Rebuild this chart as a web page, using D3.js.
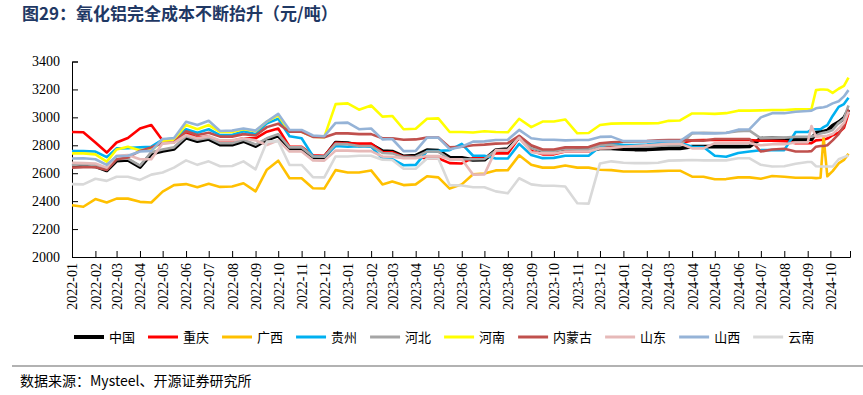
<!DOCTYPE html>
<html><head><meta charset="utf-8">
<script src="https://cdn.jsdelivr.net/npm/d3@7"></script>
<style>
html,body{margin:0;padding:0;background:#fff;}
svg{display:block;}
</style></head>
<body>
<svg id="chart" width="863" height="395"></svg>
<script>
const title = "图29：氧化铝完全成本不断抬升（元/吨）";
const source = "数据来源：Mysteel、开源证券研究所";
const yTicks = [2000,2200,2400,2600,2800,3000,3200,3400];
const names = ["中国","重庆","广西","贵州","河北","河南","内蒙古","山东","山西","云南"];
const colors = ["#000000","#FF0000","#FFC000","#00B0F0","#A5A5A5","#FFFF00","#C0504D","#E6B9B8","#95B3D7","#D9D9D9"];
const dates = [
"2022-01-01","2022-01-16","2022-02-01","2022-02-16","2022-03-01","2022-03-16","2022-04-01","2022-04-16","2022-05-01","2022-05-16","2022-06-01","2022-06-16",
"2022-07-01","2022-07-16","2022-08-01","2022-08-16","2022-09-01","2022-09-16","2022-10-01","2022-10-16","2022-11-01","2022-11-16","2022-12-01","2022-12-16",
"2023-01-01","2023-01-16","2023-02-01","2023-02-16","2023-03-01","2023-03-16","2023-04-01","2023-04-16","2023-05-01","2023-05-16","2023-06-01","2023-06-16",
"2023-07-01","2023-07-16","2023-08-01","2023-08-16","2023-09-01","2023-09-16","2023-10-01","2023-10-16","2023-11-01","2023-11-16","2023-12-01","2023-12-16",
"2024-01-01","2024-01-16","2024-02-01","2024-02-16","2024-03-01","2024-03-16","2024-04-01","2024-04-16","2024-05-01","2024-05-16","2024-06-01","2024-06-16",
"2024-07-01","2024-07-16","2024-08-01","2024-08-16","2024-09-01",
"2024-09-06","2024-09-12","2024-09-18","2024-09-22","2024-09-27","2024-10-04","2024-10-12","2024-10-19","2024-10-25"];
const china = [2650,2655,2650,2620,2690,2695,2645,2740,2760,2775,2855,2830,2845,2805,2805,2830,2795,2840,2870,2778,2778,2713,2713,2818,
2815,2800,2805,2758,2755,2720,2725,2765,2762,2712,2710,2695,2697,2765,2772,2858,2790,2758,2758,2772,2765,2765,2778,2778,
2772,2770,2770,2775,2778,2778,2790,2790,2790,2790,2790,2792,2848,2850,2848,2840,2842,
2842,2890,2897,2898,2905,2940,2965,2995,3055];
const chongqing = [2895,2893,2820,2748,2820,2852,2920,2945,2835,2840,2890,2855,2862,2830,2830,2850,2850,2897,2920,2790,2790,2728,2725,2818,
2815,2812,2812,2752,2750,2717,2715,2707,2707,2672,2670,2710,2712,2742,2742,2855,2760,2735,2735,2755,2755,2755,2780,2785,
2790,2795,2800,2808,2812,2815,2835,2838,2838,2838,2838,2838,2833,2833,2830,2815,2815,
2815,2835,2838,2840,2848,2872,2890,2925,3030];
const guangxi = [2370,2360,2415,2390,2418,2418,2395,2390,2468,2515,2522,2500,2525,2502,2505,2528,2470,2625,2690,2564,2564,2492,2490,2622,
2605,2605,2620,2520,2540,2515,2520,2578,2570,2490,2520,2592,2598,2620,2622,2728,2660,2640,2640,2655,2640,2640,2625,2622,
2612,2612,2612,2615,2618,2618,2575,2575,2557,2558,2570,2570,2560,2580,2575,2568,2568,
2568,2565,2568,2862,2578,2615,2670,2695,2740];
const guizhou = [2758,2758,2755,2715,2778,2780,2785,2790,2840,2850,2915,2890,2915,2873,2873,2900,2880,2957,2990,2865,2850,2722,2718,2795,
2790,2793,2790,2705,2700,2657,2660,2758,2760,2765,2810,2725,2725,2705,2705,2810,2730,2708,2710,2725,2725,2725,2790,2815,
2802,2802,2805,2815,2819,2819,2790,2788,2725,2718,2745,2755,2765,2765,2765,2895,2895,
2912,2915,2915,2930,2945,3010,3075,3095,3140];
const hebei = [2660,2665,2660,2630,2700,2705,2655,2750,2770,2785,2865,2840,2855,2815,2815,2840,2805,2850,2880,2785,2785,2720,2718,2810,
2808,2795,2795,2745,2742,2715,2718,2755,2755,2700,2700,2700,2702,2760,2765,2860,2780,2760,2760,2775,2770,2770,2800,2802,
2790,2790,2790,2795,2800,2802,2885,2890,2888,2890,2900,2905,2850,2852,2855,2860,2860,
2862,2870,2885,2890,2895,2910,2960,2990,3085];
const henan = [2742,2742,2735,2683,2770,2790,2765,2765,2830,2840,2945,2915,2945,2895,2895,2915,2900,2970,3015,2897,2897,2862,2858,3095,
3100,3055,3085,3005,3010,2915,2918,2990,2993,2895,2895,2892,2900,2895,2893,2990,2930,2970,2970,2985,2886,2888,2945,2955,
2957,2957,2957,2958,2975,2978,3028,3028,3025,3030,3048,3048,3050,3053,3053,3057,3057,
3060,3195,3200,3200,3198,3175,3205,3225,3285];
const neimenggu = [2640,2643,2643,2623,2700,2713,2760,2785,2815,2820,2900,2873,2890,2862,2862,2880,2870,2930,2955,2897,2897,2860,2858,2885,
2885,2880,2880,2850,2850,2840,2842,2855,2855,2785,2790,2800,2805,2812,2815,2868,2800,2770,2770,2785,2785,2788,2815,2822,
2825,2828,2830,2835,2838,2838,2835,2833,2845,2845,2845,2845,2755,2770,2775,2755,2755,
2758,2790,2795,2795,2800,2835,2880,2940,3055];
const shandong = [2675,2672,2670,2640,2725,2730,2700,2700,2815,2818,2873,2850,2865,2835,2835,2850,2835,2802,2835,2755,2755,2692,2690,2762,
2762,2758,2758,2720,2718,2708,2707,2723,2723,2700,2700,2590,2592,2765,2765,2855,2750,2742,2742,2755,2755,2755,2778,2780,
2790,2795,2800,2805,2810,2812,2778,2778,2815,2815,2815,2815,2800,2808,2808,2820,2820,
2938,2860,2865,2865,2868,2880,2920,2960,3040];
const shanxi = [2705,2707,2700,2660,2722,2725,2755,2760,2845,2850,2968,2945,2976,2902,2905,2920,2905,2970,3025,2910,2910,2870,2865,2960,
2962,2915,2920,2842,2845,2758,2760,2855,2855,2772,2790,2826,2828,2838,2840,2910,2850,2840,2840,2835,2838,2838,2860,2862,
2830,2830,2830,2830,2830,2830,2890,2885,2885,2888,2912,2915,3000,3030,3030,3040,3045,
3048,3065,3070,3072,3080,3100,3115,3150,3195];
const yunnan = [2522,2520,2560,2545,2575,2575,2552,2590,2605,2640,2692,2660,2685,2650,2652,2685,2628,2826,2830,2659,2659,2572,2570,2720,
2720,2725,2725,2697,2695,2632,2632,2705,2705,2515,2512,2500,2500,2470,2456,2564,2520,2510,2510,2505,2385,2382,2670,2685,
2675,2672,2672,2675,2690,2692,2695,2692,2692,2692,2707,2707,2660,2648,2650,2668,2680,
2680,2650,2648,2648,2648,2648,2700,2715,2728];
const seriesValues = [china,chongqing,guangxi,guizhou,hebei,henan,neimenggu,shandong,shanxi,yunnan];

const parse = d3.timeParse("%Y-%m-%d");
const dateObjs = dates.map(parse);
const series = names.map((n,i)=>({name:n,color:colors[i],values:seriesValues[i].map((v,j)=>({d:dateObjs[j],v}))}));

const svg = d3.select("#chart");
const plotL = 72, plotR = 850, plotT = 61.5, plotB = 257;
const x = d3.scaleTime().domain([new Date(2022,0,1), new Date(2024,9,27)]).range([plotL,plotR]);
const y = d3.scaleLinear().domain([2000,3400]).range([plotB,plotT]);

// title
svg.append("text").attr("x",22).attr("y",20).attr("fill","#1F3864")
  .attr("font-family","'Noto Sans CJK SC','Noto Sans',sans-serif").attr("font-weight","bold").attr("font-size",17)
  .text(title);

// axes
const serif = "'Liberation Serif','Times New Roman',serif";
const yAxis = d3.axisLeft(y).tickValues(yTicks).tickSize(-6).tickPadding(12).tickFormat(d3.format("d"));
const gy = svg.append("g").attr("transform",`translate(${plotL},0)`).call(yAxis);
gy.selectAll("text").attr("font-family",serif).attr("font-size",14).attr("fill","#000");
gy.selectAll("line,path").attr("stroke","#000");

const months = d3.timeMonth.range(new Date(2022,0,1), new Date(2024,9,2));
const xAxis = d3.axisBottom(x).tickValues(months).tickSize(-6).tickFormat(d3.timeFormat("%Y-%m"));
const gx = svg.append("g").attr("transform",`translate(0,${plotB})`).call(xAxis);
gx.selectAll("line,path").attr("stroke","#000");
gx.selectAll("text").attr("font-family",serif).attr("font-size",14).attr("fill","#000")
  .attr("transform","rotate(-90)").attr("text-anchor","end").attr("x",-6).attr("y",0).attr("dy","0.35em");

// lines
const line = d3.line().x(d=>x(d.d)).y(d=>y(d.v));
svg.append("g").selectAll("path").data(series).join("path")
  .attr("d",d=>line(d.values)).attr("fill","none").attr("stroke",d=>d.color)
  .attr("stroke-width",(d,i)=>i===0?3.8:2.6).attr("stroke-linejoin","round");

// legend
const lg = svg.append("g").attr("transform","translate(74,337)");
let lx = 0;
series.forEach((s,i)=>{
  const g = lg.append("g").attr("transform",`translate(${lx},0)`);
  g.append("line").attr("x1",0).attr("x2",30).attr("y1",0).attr("y2",0)
    .attr("stroke",s.color).attr("stroke-width",i===0?4:3);
  const t = g.append("text").attr("x",35).attr("y",0).attr("dy","0.35em")
    .attr("font-family","'Noto Sans CJK SC',sans-serif").attr("font-size",13).attr("fill","#000").text(s.name);
  lx += 35 + t.node().getComputedTextLength() + 13;
});

// separator and source
svg.append("line").attr("x1",12).attr("x2",863).attr("y1",366).attr("y2",366).attr("stroke","#999").attr("stroke-width",1.5);
svg.append("text").attr("x",20).attr("y",386).attr("font-family","'Noto Sans CJK SC',sans-serif").attr("font-size",14).attr("fill","#000").text(source);
</script>
</body></html>
